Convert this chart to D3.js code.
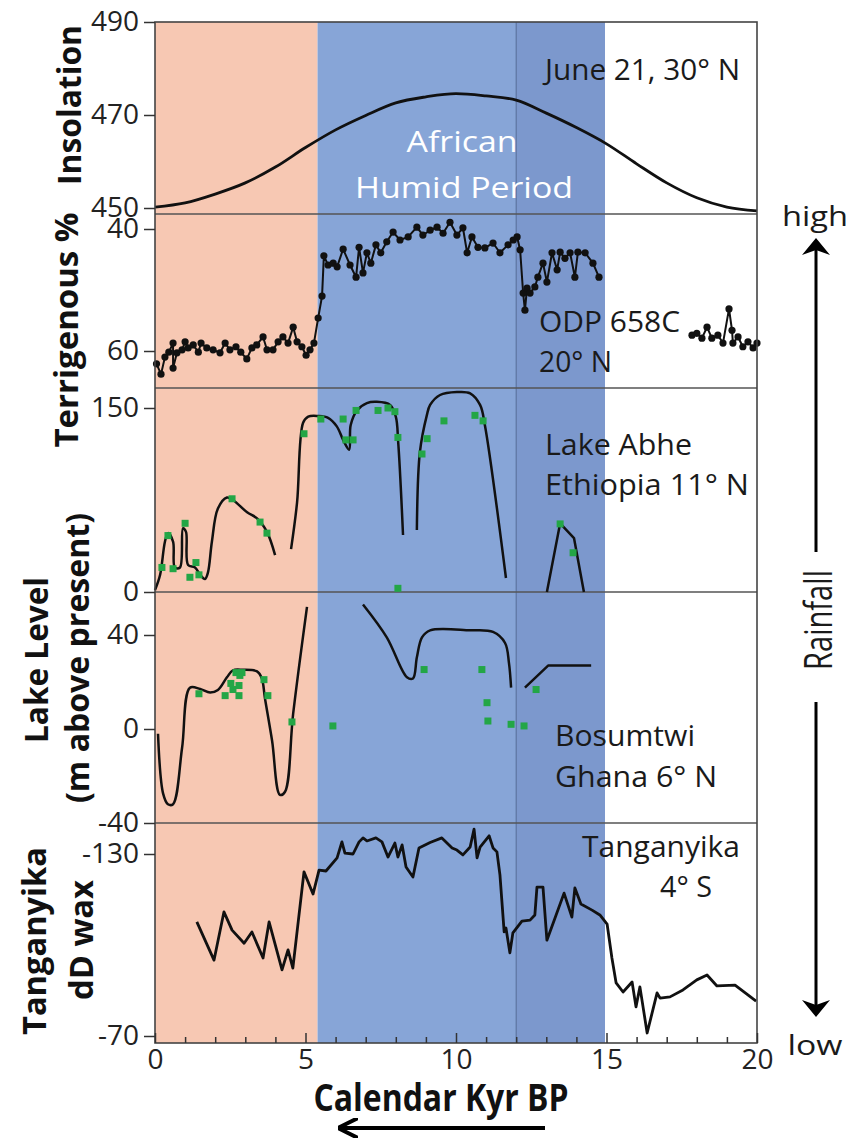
<!DOCTYPE html>
<html>
<head>
<meta charset="utf-8">
<script src="https://cdn.jsdelivr.net/npm/d3@7"></script>
<style>
  body { margin: 0; background: #fff; }
  svg { display: block; }
  text { font-family: "Open Sans", sans-serif; }
</style>
</head>
<body>
<svg id="chart"></svg>
<script>
// ---- data (kyr BP, value) ----
const bands = [
  { from: 0, to: 5.4, color: "#f7c8b3" },
  { from: 5.4, to: 12, color: "#87a5d7" },
  { from: 12, to: 14.95, color: "#7c98cd" }
];

const insolation = [[0,450.2],[1,451.1],[2,453],[3,455.4],[4,458.8],[5,463],[6,466.8],[7,469.9],
  [8,472.6],[9,473.9],[10,474.6],[11,474.1],[12,473.2],[13,470.4],[14,467.3],[15,463.8],
  [16,459.5],[17,455.4],[18,452.2],[19,450.2],[20,449.4]];

const terrigenousA = [[0.05,62.1],[0.2,63.8],[0.33,61],[0.46,60.2],[0.6,58.7],[0.6,62.8],[0.73,60.3],
  [0.9,59.8],[1.0,58.5],[1.1,59.5],[1.27,59],[1.44,60.2],[1.53,58.7],[1.72,59.5],[1.93,59.8],
  [2.16,60.3],[2.33,58.7],[2.49,59.8],[2.69,59.3],[2.85,60.2],[3.05,61.3],[3.22,59.5],[3.38,59],
  [3.59,57.7],[3.72,59.8],[3.92,59.8],[4.09,58.5],[4.25,57.7],[4.42,58.7],[4.59,56.1],[4.72,58.5],
  [4.88,59.3],[5.02,60.7],[5.15,59.8],[5.28,58.7],[5.42,54.6],[5.55,51],[5.61,44.4],[5.75,45.9],
  [5.92,45.6],[6.05,46.2],[6.25,43.3],[6.48,45.9],[6.68,47.9],[6.78,43],[6.91,47.2],[7.04,43.9],
  [7.17,45.6],[7.34,42.6],[7.5,43.9],[7.7,42.1],[7.91,40.5],[8.14,41.8],[8.41,41.3],[8.7,39.7],
  [8.9,41],[9.14,40.2],[9.37,39.7],[9.57,40.7],[9.8,38.9],[10.03,41],[10.23,39.8],[10.37,43.9],
  [10.53,41.3],[10.73,43],[10.96,43.1],[11.23,42.3],[11.46,43.9],[11.73,42.6],[11.9,41.8],
  [12.03,41.3],[12.13,43.4],[12.23,50.5],[12.29,53.3],[12.36,49.7],[12.46,50.5],[12.62,49.5],
  [12.72,47.9],[12.89,45.6],[13.02,48.7],[13.19,43.9],[13.36,46.7],[13.46,43.8],[13.62,44.8],
  [13.79,43.9],[13.95,47.9],[14.05,43.8],[14.29,43.9],[14.55,45.6],[14.75,47.9]];
const terrigenousB = [[17.84,57.4],[18.0,57.1],[18.17,57.9],[18.34,56.1],[18.5,57.9],[18.7,57.4],
  [18.87,58.7],[19.07,53.1],[19.17,56.6],[19.2,58.7],[19.37,57.7],[19.53,59.3],[19.7,58.5],
  [19.87,59.5],[20.0,58.7]];

const abheCurves = [
  [[0,1.5],[0.17,14],[0.33,41],[0.43,48],[0.6,41],[0.66,20],[0.83,20],[0.93,52],[1.03,49],[1.1,22],
   [1.33,20],[1.5,14],[1.66,10.6],[1.76,16],[1.89,41],[2.09,68],[2.39,77],[2.59,75],[3.06,65],
   [3.39,60],[3.72,49],[3.99,30]],
  [[4.52,35],[4.72,73],[4.92,138],[5.09,143],[5.42,143.5],[5.75,142],[6.04,135],[6.25,124],
   [6.45,116],[6.5,136],[6.71,148],[7.04,154],[7.37,155],[7.81,152.5],[8.0,143],[8.08,122],[8.24,46.5]],
  [[8.7,50.5],[8.8,114],[9.03,144],[9.14,152.5],[9.47,160.6],[10.03,163],[10.47,162],[10.8,152.5],
   [10.96,136],[11.66,11.4]]
];
const abheLinear = [[13.02,0],[13.46,56],[13.92,44],[14.25,0]];
const abhePoints = [[0.23,20],[0.43,46],[0.6,19],[1.0,56],[1.16,12],[1.36,24],[1.46,14],[2.56,76],
  [3.49,57],[3.72,48],[4.95,129],[5.51,141],[6.25,141],[6.34,124],[6.58,124],[6.68,148],[7.41,148],
  [7.74,150],[7.97,147],[8.07,126],[8.07,3],[8.87,112.5],[9.04,125],[9.6,139.5],[10.63,144],
  [10.9,139.5],[13.46,55.5],[13.89,32]];

const bosumtwiCurves = [
  [[0.1,-2],[0.27,-27.5],[0.43,-32],[0.6,-32],[0.9,-8],[1.16,17.6],[1.5,17],[1.83,15.5],[2.09,16.6],
   [2.39,22],[2.59,25],[2.92,25.2],[3.39,24.5],[3.55,21.5],[3.65,13.3],[3.89,-5],[4.15,-28],
   [4.32,-26.7],[4.59,6.5],[5.05,52]],
  [[6.91,53],[7.7,39],[8.37,22],[8.57,21.5],[8.7,30.5],[8.87,39],[9.14,42],[10.47,42],[11.23,41.3],
   [11.63,36.6],[11.76,28],[11.83,17.6]]
];
const bosumtwiLinear = [[12.29,17.6],[13.06,27],[14.49,27]];
const bosumtwiPoints = [[1.46,15],[2.33,14.2],[2.52,19.4],[2.59,16.8],[2.69,24],[2.79,14.2],[2.79,18.5],
  [2.82,22.8],[2.89,24],[3.62,21],[3.75,14.2],[4.55,3],[5.91,1.3],[8.94,25.3],[10.86,25.3],
  [11.03,11.2],[11.06,3.4],[11.83,2],[12.26,1.3],[12.66,16.8]];

const tanganyika = [[1.39,-107.6],[1.96,-95],[2.29,-110.9],[2.56,-104.9],[2.96,-100.6],[3.22,-104.3],
  [3.59,-95.7],[3.79,-107.6],[4.22,-91.8],[4.42,-98.4],[4.58,-92.4],[4.95,-124.1],[5.25,-116.8],
  [5.45,-124.7],[5.68,-124.4],[6.05,-128.7],[6.21,-134],[6.31,-130.3],[6.58,-130],[6.78,-134],
  [6.91,-135.3],[7.04,-134.3],[7.34,-135.3],[7.54,-134],[7.74,-129],[7.97,-133.6],[8.07,-129],
  [8.21,-133],[8.34,-125.7],[8.57,-122.4],[8.77,-132],[9.14,-133.8],[9.53,-135.3],[9.87,-132],
  [10.03,-131.3],[10.23,-129.7],[10.47,-132.3],[10.6,-138.2],[10.7,-128.7],[10.8,-132.3],[11.1,-136],
  [11.23,-132],[11.36,-130.7],[11.46,-123.1],[11.6,-104.3],[11.66,-105.6],[11.79,-97.4],[11.89,-104],
  [12.19,-107.9],[12.46,-108.2],[12.62,-109.9],[12.69,-119.1],[12.89,-119.1],[13.02,-101.6],
  [13.29,-108.9],[13.59,-117.1],[13.85,-109.2],[13.95,-118.8],[14.15,-113.5],[14.52,-111.5],
  [14.78,-109.9],[15.02,-106.9],[15.18,-95.7],[15.32,-87.5],[15.55,-84.5],[15.85,-87.8],[15.98,-79.6],
  [16.11,-86.2],[16.35,-71],[16.68,-84.2],[16.78,-82.5],[17.11,-82.9],[17.54,-85.2],[18.0,-88.5],
  [18.34,-90.1],[18.67,-86.5],[19.27,-86.8],[19.97,-81.5]];

const xTicks = [0, 5, 10, 15, 20];
const insolTicks = [450, 470, 490];
const terrTicks = [40, 60];
const abheTicks = [0, 150];
const bosTicks = [-40, 0, 40];
const tangTicks = [-130, -70];

// ---- layout ----
const W = 864, H = 1141;
const plotL = 155, plotR = 757, plotT = 22, plotB = 1043;
const svg = d3.select("#chart").attr("width", W).attr("height", H);

const x = d3.scaleLinear().domain([0, 20]).range([plotL, plotR]);

const panels = {
  insol: { y: d3.scaleLinear().domain([450, 490]).range([208, 22]), ticks: insolTicks },
  terr:  { y: d3.scaleLinear().domain([40, 60]).range([229, 351]), ticks: terrTicks },
  abhe:  { y: d3.scaleLinear().domain([0, 150]).range([592, 408]), ticks: abheTicks },
  bos:   { y: d3.scaleLinear().domain([-40, 40]).range([823, 635]), ticks: bosTicks },
  tang:  { y: d3.scaleLinear().domain([-130, -70]).range([854, 1036]), ticks: tangTicks }
};
const separators = [214, 388, 592, 823];

// background bands
svg.append("g").selectAll("rect")
  .data(bands)
  .join("rect")
  .attr("x", d => x(d.from))
  .attr("width", d => x(d.to) - x(d.from))
  .attr("y", plotT)
  .attr("height", plotB - plotT)
  .attr("fill", d => d.color);

svg.append("line")
  .attr("x1", x(12)).attr("x2", x(12))
  .attr("y1", plotT).attr("y2", plotB)
  .attr("stroke", "#4f6796").attr("stroke-width", 1);

svg.append("g").selectAll("line")
  .data(separators)
  .join("line")
  .attr("x1", plotL).attr("x2", plotR)
  .attr("y1", d => d).attr("y2", d => d)
  .attr("stroke", "#555").attr("stroke-width", 1.5);

// lines
function drawLine(data, y, curve, width) {
  svg.append("path")
    .datum(data)
    .attr("fill", "none")
    .attr("stroke", "#111")
    .attr("stroke-width", width || 2.5)
    .attr("stroke-linejoin", "round")
    .attr("d", d3.line().x(d => x(d[0])).y(d => y(d[1])).curve(curve));
}

drawLine(insolation, panels.insol.y, d3.curveMonotoneX, 2.8);

[terrigenousA, terrigenousB].forEach(seg => {
  drawLine(seg, panels.terr.y, d3.curveLinear, 2);
  svg.append("g").selectAll("circle")
    .data(seg)
    .join("circle")
    .attr("cx", d => x(d[0]))
    .attr("cy", d => panels.terr.y(d[1]))
    .attr("r", 3.6)
    .attr("fill", "#111");
});

abheCurves.forEach(seg => drawLine(seg, panels.abhe.y, d3.curveCatmullRom, 2.5));
drawLine(abheLinear, panels.abhe.y, d3.curveLinear, 2.5);
bosumtwiCurves.forEach(seg => drawLine(seg, panels.bos.y, d3.curveCatmullRom, 2.5));
drawLine(bosumtwiLinear, panels.bos.y, d3.curveLinear, 2.5);
drawLine(tanganyika, panels.tang.y, d3.curveLinear, 2.8);

function drawSquares(data, y) {
  svg.append("g").selectAll("rect")
    .data(data)
    .join("rect")
    .attr("x", d => x(d[0]) - 3.5)
    .attr("y", d => y(d[1]) - 3.5)
    .attr("width", 7).attr("height", 7)
    .attr("fill", "#23a646");
}
drawSquares(abhePoints, panels.abhe.y);
drawSquares(bosumtwiPoints, panels.bos.y);

// frame
svg.append("rect")
  .attr("x", plotL).attr("y", plotT)
  .attr("width", plotR - plotL).attr("height", plotB - plotT)
  .attr("fill", "none").attr("stroke", "#444").attr("stroke-width", 1.6);

// axes
Object.values(panels).forEach(p => {
  const g = svg.append("g")
    .attr("transform", `translate(${plotL},0)`)
    .call(d3.axisLeft(p.y).tickValues(p.ticks).tickSize(11).tickPadding(5).tickFormat(d3.format("d")));
  g.select(".domain").remove();
  g.selectAll("line").attr("stroke", "#333").attr("stroke-width", 1.5);
  g.selectAll("text").attr("font-size", 28).attr("fill", "#222")
    .attr("font-family", "Open Sans").text(d => String(d));
});

const gx = svg.append("g")
  .attr("transform", `translate(0,${plotB})`)
  .call(d3.axisBottom(x).tickValues(xTicks).tickSize(-10).tickPadding(6));
gx.select(".domain").remove();
gx.selectAll("line").attr("stroke", "#333").attr("stroke-width", 1.5);
gx.selectAll("text").attr("font-size", 28).attr("fill", "#222").attr("font-family", "Open Sans");

const gxm = svg.append("g")
  .attr("transform", `translate(0,${plotB})`)
  .call(d3.axisBottom(x).tickValues(d3.range(0, 21).filter(v => v % 5 !== 0)).tickSize(-6).tickFormat(""));
gxm.select(".domain").remove();
gxm.selectAll("line").attr("stroke", "#333").attr("stroke-width", 1.5);

// text helper
function label(txt, px, py, opt) {
  opt = opt || {};
  const t = svg.append("text")
    .attr("x", px).attr("y", py)
    .attr("font-size", opt.size || 30)
    .attr("fill", opt.fill || "#1a1a1a")
    .attr("text-anchor", opt.anchor || "start")
    .text(txt);
  if (opt.family) t.attr("font-family", opt.family);
  if (opt.weight) t.attr("font-weight", opt.weight);
  if (opt.len) t.attr("textLength", opt.len).attr("lengthAdjust", "spacingAndGlyphs");
  if (opt.rotate) t.attr("transform", `rotate(-90,${px},${py})`);
  return t;
}

// y titles
const bold = { weight: "bold", family: "Liberation Sans", size: 33, anchor: "middle", rotate: true, fill: "#111" };
label("Insolation", 81, 105, { ...bold, len: 160 });
label("Terrigenous %", 78, 330, { ...bold, len: 235 });
label("Lake Level", 48, 660, { ...bold, len: 166 });
label("(m above present)", 89, 658, { ...bold, len: 290 });
label("Tanganyika", 46, 941, { ...bold, len: 188 });
label("dD wax", 93, 940, { ...bold, len: 120 });

// in-panel labels
label("June 21, 30\u00B0 N", 545, 80, { len: 195 });
label("African", 462, 152, { fill: "#fff", anchor: "middle", len: 111 });
label("Humid Period", 464, 198, { fill: "#fff", anchor: "middle", len: 218 });
label("ODP 658C", 539, 332, { len: 141 });
label("20\u00B0 N", 539, 372, { len: 73 });
label("Lake Abhe", 545, 455, { len: 147 });
label("Ethiopia  11\u00B0 N", 545, 495, { len: 204 });
label("Bosumtwi", 555, 746, { len: 140 });
label("Ghana  6\u00B0 N", 555, 787, { len: 162 });
label("Tanganyika", 582, 857, { len: 158 });
label("4\u00B0 S", 660, 897, { len: 52 });

// x title and arrow
label("Calendar Kyr BP", 441, 1111, { family: "Liberation Sans Narrow", weight: "bold", size: 37, anchor: "middle", len: 255, fill: "#111" });

const defs = svg.append("defs");
defs.append("marker")
  .attr("id", "head").attr("viewBox", "0 0 10 10")
  .attr("refX", 9).attr("refY", 5)
  .attr("markerWidth", 5).attr("markerHeight", 5)
  .attr("markerUnits", "strokeWidth")
  .attr("orient", "auto")
  .append("path").attr("d", "M0,0 L10,5 L0,10").attr("fill", "none")
  .attr("stroke", "#000").attr("stroke-width", 2);

svg.append("line")
  .attr("x1", 545).attr("y1", 1128).attr("x2", 340).attr("y2", 1128)
  .attr("stroke", "#000").attr("stroke-width", 4)
  .attr("marker-end", "url(#head)");

// rainfall scale on the right
const arrowHead = (tipY, dir) => {
  svg.append("path")
    .attr("d", `M816,${tipY} L802,${tipY + dir * 17} L816,${tipY + dir * 12} L830,${tipY + dir * 17} Z`)
    .attr("fill", "#000");
};
svg.append("line").attr("x1", 816).attr("x2", 816).attr("y1", 248).attr("y2", 552)
  .attr("stroke", "#000").attr("stroke-width", 3);
svg.append("line").attr("x1", 816).attr("x2", 816).attr("y1", 702).attr("y2", 1006)
  .attr("stroke", "#000").attr("stroke-width", 3);
arrowHead(238, 1);
arrowHead(1017, -1);
label("high", 815, 226, { anchor: "middle", size: 27, len: 66 });
label("low", 815, 1055, { anchor: "middle", size: 27, len: 55 });
label("Rainfall", 832, 620, { anchor: "middle", size: 38, len: 100, family: "Liberation Sans", rotate: true });
</script>
</body>
</html>
